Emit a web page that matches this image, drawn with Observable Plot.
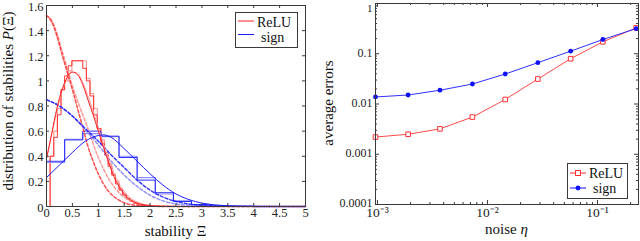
<!DOCTYPE html>
<html><head><meta charset="utf-8">
<script src="https://cdn.jsdelivr.net/npm/d3@7"></script>
<script src="https://cdn.jsdelivr.net/npm/@observablehq/plot@0.6"></script>
<style>
html,body{margin:0;padding:0;background:#fff;}
#wrap{position:relative;width:640px;height:241px;overflow:hidden;}
#wrap > svg{position:absolute;top:0;}
</style></head><body><div id="wrap"></div>
<script>
// ---------- Left panel: distribution of stabilities ----------
const reluEdges = [0.07,0.14,0.21,0.28,0.35,0.42,0.49,0.56,0.63,0.70,0.77,0.84,0.91,0.98,1.05,1.12,1.19,1.26,1.33,1.40,1.47,1.54,1.61,1.68,1.75,1.82,1.89,1.96,2.03];
const reluHist  = [0.40,0.55,0.73,0.93,1.04,1.12,1.16,1.16,1.16,1.10,1.00,0.88,0.73,0.62,0.50,0.41,0.32,0.25,0.18,0.13,0.09,0.06,0.04,0.025,0.015,0.01,0.005,0.003];
const reluHist2 = [0.40,0.60,0.78,0.93,1.00,1.08,1.16,1.16,1.16,1.16,1.02,0.90,0.78,0.62,0.53,0.43,0.34,0.26,0.20,0.14,0.10,0.065,0.045,0.03,0.02,0.01,0.005,0.003];
const signEdges = [0,0.35,0.7,1.05,1.4,1.75,2.1,2.45,2.8,3.15,3.5];
const signHist  = [0.36,0.53,0.60,0.56,0.39,0.21,0.11,0.04,0.015,0.005];
const signHist2 = [0.35,0.535,0.58,0.555,0.40,0.23,0.10,0.045,0.015,0.005];

const reluSolidX = [0,0.1,0.2,0.3,0.4,0.5,0.6,0.7,0.8,0.9,1.0,1.1,1.2,1.3,1.4,1.5,1.6,1.7,1.8,2.0,2.2,2.5,3,5];
const reluSolidY = [0.38,0.58,0.78,0.93,1.03,1.07,1.05,0.97,0.85,0.73,0.60,0.47,0.35,0.24,0.16,0.10,0.06,0.035,0.02,0.007,0.002,0,0,0];
const reluSolid2Y= [0.38,0.57,0.76,0.92,1.02,1.07,1.06,0.99,0.88,0.76,0.63,0.50,0.38,0.27,0.18,0.12,0.075,0.045,0.027,0.009,0.003,0,0,0];
const reluDashX  = [0,0.1,0.2,0.3,0.4,0.5,0.6,0.7,0.8,0.9,1.0,1.1,1.2,1.3,1.4,1.5,1.75,2.0,2.5,3,5];
const reluDashA  = [1.52,1.47,1.36,1.21,1.07,0.93,0.78,0.63,0.48,0.36,0.26,0.18,0.12,0.08,0.05,0.03,0.008,0.002,0,0,0];
const reluDashB  = [1.52,1.48,1.38,1.24,1.10,0.96,0.84,0.73,0.62,0.50,0.39,0.30,0.22,0.16,0.11,0.075,0.025,0.008,0.001,0,0];
const signSolidX = [0,0.25,0.5,0.75,1.0,1.1,1.25,1.5,1.75,2.0,2.25,2.5,2.75,3.0,3.25,3.5,4,4.5,5];
const signSolidY = [0.23,0.33,0.43,0.52,0.565,0.57,0.55,0.46,0.36,0.26,0.17,0.10,0.055,0.027,0.013,0.006,0.001,0,0];
const signDashX  = [0,0.25,0.5,0.75,1.0,1.25,1.5,1.75,2.0,2.25,2.5,2.75,3.0,3.5,4,5];
const signDashA  = [0.85,0.80,0.72,0.62,0.52,0.41,0.31,0.21,0.13,0.075,0.04,0.02,0.01,0.003,0.001,0];
const signDashB  = [0.85,0.80,0.72,0.61,0.49,0.36,0.25,0.16,0.09,0.045,0.02,0.01,0.004,0.001,0,0];

const xTicksL = [0,0.5,1,1.5,2,2.5,3,3.5,4,4.5,5];
const xLabelsL = ["0","0.5","1","1.5","2","2.5","3","3.5","4","4.5","5"];
const yTicksL = [0,0.2,0.4,0.6,0.8,1,1.2,1.4,1.6];
const yLabelsL = ["0","0.2","0.4","0.6","0.8","1","1.2","1.4","1.6"];

// ---------- Right panel: average errors vs noise ----------
const noise   = [0.00096,0.0019,0.0037,0.0073,0.0145,0.0287,0.057,0.112,0.225];
const reluErr = [0.0022,0.0025,0.0032,0.0055,0.0123,0.0314,0.0796,0.173,0.327];
const signErr = [0.0138,0.0151,0.0188,0.025,0.0395,0.0664,0.1125,0.192,0.317];
const xTicksR = [0.001,0.01,0.1];
const xLabelsR = ["10\u207B\u00B3","10\u207B\u00B2","10\u207B\u00B9"];
const yTicksR = [0.0001,0.001,0.01,0.1,1];
const yLabelsR = ["0.0001","0.001","0.01","0.1","1"];
const xMinorR = [0.002,0.003,0.004,0.005,0.006,0.007,0.008,0.009,0.02,0.03,0.04,0.05,0.06,0.07,0.08,0.09,0.2];
const yMinorR = [0.0002,0.0003,0.0004,0.0005,0.0006,0.0007,0.0008,0.0009,0.002,0.003,0.004,0.005,0.006,0.007,0.008,0.009,0.02,0.03,0.04,0.05,0.06,0.07,0.08,0.09,0.2,0.3,0.4,0.5,0.6,0.7,0.8,0.9];

// ---------- helpers ----------
const FONT = "Liberation Serif";
const FRAME = "#3a3a3a";
const RED = "#ff2020", RED_L = "#ff9a9a", BLUE = "#1a1aff", BLUE_L = "#9090ff";
function steps(edges, h) {
  const pts = [{x: edges[0], y: 0}];
  h.forEach((v, i) => pts.push({x: edges[i], y: v}));
  pts.push({x: edges[edges.length - 1], y: 0});
  return pts;
}
function pairs(xs, ys) { return xs.map((x, i) => ({x, y: ys[i]})); }
const fmt = (ticks, labels) => d => labels[ticks.indexOf(d)];

const wrap = document.getElementById("wrap");

// ---------- Left plot ----------
const L = {w: 320, h: 241, ml: 46, mr: 15, mt: 5, mb: 35};
const LW = L.w - L.ml - L.mr, LH = L.h - L.mt - L.mb;
const left = Plot.plot({
  width: L.w, height: L.h,
  marginLeft: L.ml, marginRight: L.mr, marginTop: L.mt, marginBottom: L.mb,
  style: {fontFamily: FONT, fontSize: "12.5px", background: "transparent", color: "#222"},
  x: {domain: [0, 5]},
  y: {domain: [0, 1.6]},
  marks: [
    Plot.line(steps(reluEdges, reluHist2), {x: "x", y: "y", curve: "step-after", stroke: RED_L, strokeWidth: 1.1}),
    Plot.line(steps(reluEdges, reluHist), {x: "x", y: "y", curve: "step-after", stroke: RED, strokeWidth: 0.9}),
    Plot.line(steps(signEdges, signHist2), {x: "x", y: "y", curve: "step-after", stroke: BLUE_L, strokeWidth: 1.1}),
    Plot.line(steps(signEdges, signHist), {x: "x", y: "y", curve: "step-after", stroke: BLUE, strokeWidth: 0.9}),
    Plot.line(pairs(reluDashX, reluDashB), {x: "x", y: "y", curve: "monotone-x", stroke: RED_L, strokeDasharray: "3,2"}),
    Plot.line(pairs(reluDashX, reluDashA), {x: "x", y: "y", curve: "monotone-x", stroke: RED, strokeOpacity: 0.8, strokeDasharray: "3,2"}),
    Plot.line(pairs(signDashX, signDashB), {x: "x", y: "y", curve: "monotone-x", stroke: BLUE_L, strokeDasharray: "3,2"}),
    Plot.line(pairs(signDashX, signDashA), {x: "x", y: "y", curve: "monotone-x", stroke: BLUE, strokeOpacity: 0.85, strokeDasharray: "3,2"}),
    Plot.line(pairs(reluSolidX, reluSolid2Y), {x: "x", y: "y", curve: "monotone-x", stroke: RED_L, strokeWidth: 1}),
    Plot.line(pairs(reluSolidX, reluSolidY), {x: "x", y: "y", curve: "monotone-x", stroke: RED, strokeWidth: 1}),
    Plot.line(pairs(signSolidX, signSolidY), {x: "x", y: "y", curve: "monotone-x", stroke: BLUE, strokeWidth: 1}),
    Plot.tickX(xTicksL, {x: d => d, insetTop: LH - 3, stroke: FRAME}),
    Plot.tickX(xTicksL, {x: d => d, insetBottom: LH - 3, stroke: FRAME}),
    Plot.tickY(yTicksL, {y: d => d, insetRight: LW - 3, stroke: FRAME}),
    Plot.tickY(yTicksL, {y: d => d, insetLeft: LW - 3, stroke: FRAME}),
    Plot.axisX(xTicksL, {tickSize: 0, tickPadding: 2, label: null, tickFormat: fmt(xTicksL, xLabelsL)}),
    Plot.axisY(yTicksL, {tickSize: 0, tickPadding: 3, label: null, dy: 1, tickFormat: fmt(yTicksL, yLabelsL)}),
    Plot.frame({stroke: FRAME, strokeWidth: 1})
  ]
});
left.style.left = "0px";
wrap.appendChild(left);

// ---------- Right plot ----------
const R = {w: 320, h: 241, ml: 55, mr: 2, mt: 3, mb: 37};
const RW = R.w - R.ml - R.mr, RH = R.h - R.mt - R.mb;
const yTopR = yTicksR.slice(-1), yRestR = yTicksR.slice(0, -1);
const right = Plot.plot({
  width: R.w, height: R.h,
  marginLeft: R.ml, marginRight: R.mr, marginTop: R.mt, marginBottom: R.mb,
  style: {fontFamily: FONT, fontSize: "12px", background: "transparent", color: "#222"},
  x: {type: "log", domain: [0.00096, 0.236]},
  y: {type: "log", domain: [0.0001, 1]},
  marks: [
    Plot.tickX(xTicksR, {x: d => d, insetTop: RH - 4, stroke: FRAME}),
    Plot.tickX(xTicksR, {x: d => d, insetBottom: RH - 4, stroke: FRAME}),
    Plot.tickX(xMinorR, {x: d => d, insetTop: RH - 2, stroke: FRAME}),
    Plot.tickX(xMinorR, {x: d => d, insetBottom: RH - 2, stroke: FRAME}),
    Plot.tickY(yTicksR, {y: d => d, insetRight: RW - 4, stroke: FRAME}),
    Plot.tickY(yTicksR, {y: d => d, insetLeft: RW - 4, stroke: FRAME}),
    Plot.tickY(yMinorR, {y: d => d, insetRight: RW - 2, stroke: FRAME}),
    Plot.tickY(yMinorR, {y: d => d, insetLeft: RW - 2, stroke: FRAME}),
    Plot.line(pairs(noise, reluErr), {x: "x", y: "y", stroke: "#ff4a4a", strokeWidth: 1}),
    Plot.dot(pairs(noise, reluErr), {x: "x", y: "y", symbol: "square", r: 2.6, stroke: "#ff3030", fill: "white", strokeWidth: 1}),
    Plot.line(pairs(noise, signErr), {x: "x", y: "y", stroke: "#3030ff", strokeWidth: 1}),
    Plot.dot(pairs(noise, signErr), {x: "x", y: "y", r: 2.4, fill: "#1010ff", stroke: "none"}),
    Plot.axisX(xTicksR, {tickSize: 0, tickPadding: 3, label: null, fontSize: 13.5, tickFormat: fmt(xTicksR, xLabelsR)}),
    Plot.axisY(yRestR, {tickSize: 0, tickPadding: 3, label: null, dy: -1, tickFormat: fmt(yTicksR, yLabelsR)}),
    Plot.axisY(yTopR, {tickSize: 0, tickPadding: 3, label: null, dy: 4.5, fontSize: 11, tickFormat: fmt(yTicksR, yLabelsR)}),
    Plot.frame({stroke: FRAME, strokeWidth: 1})
  ]
});
right.style.left = "320px";
wrap.appendChild(right);

// ---------- labels and legends ----------
function addText(svg, x, y, rot, parts, size) {
  const t = d3.select(svg).append("text")
    .attr("transform", `translate(${x},${y})` + (rot ? ` rotate(${rot})` : ""))
    .attr("text-anchor", "middle")
    .attr("font-family", FONT).attr("font-size", size).attr("fill", "#111");
  parts.forEach(p => t.append("tspan").attr("font-style", p.italic ? "italic" : null).text(p.t));
}
addText(left, L.ml + LW / 2, 236, 0, [{t: "stability Ξ"}], 15);
addText(left, 13, 101, -90, [{t: "distribution of stabilities "}, {t: "P", italic: true}, {t: "(Ξ)"}], 15);
addText(right, R.ml + RW / 2, 234, 0, [{t: "noise "}, {t: "η", italic: true}], 15);
addText(right, 13, 103, -90, [{t: "average errors"}], 15);

function legend(svg, x, y, w, h, entries) {
  const g = d3.select(svg).append("g").attr("text-anchor", "start");
  g.append("rect").attr("x", x + 0.5).attr("y", y + 0.5).attr("width", w).attr("height", h)
    .attr("fill", "white").attr("stroke", FRAME);
  entries.forEach((e, i) => {
    const cy = y + e.ly;
    g.append("line").attr("x1", x + 3).attr("x2", x + 19).attr("y1", cy).attr("y2", cy)
      .attr("stroke", e.color).attr("stroke-width", 1);
    if (e.marker === "square") g.append("rect").attr("x", x + 11 - 2.5).attr("y", cy - 2.5)
      .attr("width", 5).attr("height", 5).attr("fill", "white").attr("stroke", e.color);
    if (e.marker === "dot") g.append("circle").attr("cx", x + 11).attr("cy", cy).attr("r", 2.4).attr("fill", e.color);
    g.append("text").attr("x", x + e.tx).attr("y", y + e.ty).attr("font-family", FONT)
      .attr("text-anchor", "start").attr("font-size", 14).attr("fill", "#111").text(e.label);
  });
}
legend(left, 235, 12, 62, 35, [
  {label: "ReLU", color: RED, ly: 9, ty: 15, tx: 22},
  {label: "sign", color: BLUE, ly: 22.5, ty: 30, tx: 26}
]);
legend(right, 247, 163, 60, 35, [
  {label: "ReLU", color: "#ff3030", marker: "square", ly: 10, ty: 15, tx: 22},
  {label: "sign", color: "#1010ff", marker: "dot", ly: 25, ty: 30, tx: 26}
]);
</script></body></html>
